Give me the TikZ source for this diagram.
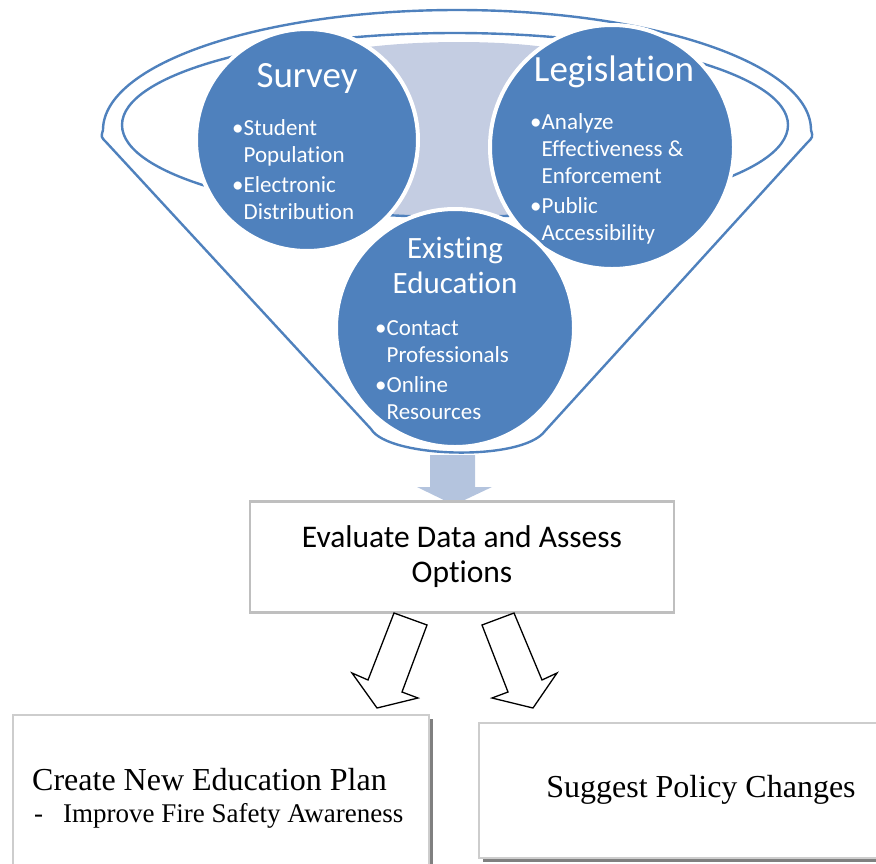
\documentclass[tikz,border=0pt]{standalone}
\usepackage{fontspec}
\setmainfont{Liberation Serif}
\newfontfamily\calfont[Ligatures=NoCommon]{Carlito}
\usetikzlibrary{shadows}
\definecolor{fblue}{RGB}{79,129,189}
\definecolor{flight}{RGB}{196,205,226}
\definecolor{farrow}{RGB}{180,196,222}
\definecolor{boxgray}{RGB}{191,191,191}
\definecolor{lightgray2}{RGB}{205,205,205}
\definecolor{shadowgray}{RGB}{128,128,128}
\tikzset{
  funnelline/.style={draw=fblue, line width=2.4pt},
  circ/.style={circle, fill=fblue, draw=white, line width=4pt, inner sep=0pt},
  ctitle/.style={text=white, font=\calfont\fontsize{37}{40}\selectfont, inner sep=0pt},
  ctitlesm/.style={text=white, font=\calfont\fontsize{31}{35}\selectfont, inner sep=0pt, align=center},
  blist/.style={text=white, font=\calfont\fontsize{23}{27}\selectfont, inner sep=0pt, anchor=north west},
  evalbox/.style={draw=boxgray, line width=2.5pt, fill=white, minimum width=424pt, minimum height=111pt, align=center, font=\calfont\fontsize{31.5}{35}\selectfont},
  outbox/.style={draw=lightgray2, line width=2pt, fill=white, anchor=north west,
    drop shadow={shadow xshift=4pt, shadow yshift=-4pt, fill=shadowgray, opacity=1}},
  blockarrow/.style={draw=black, line width=1.3pt, fill=white, line join=miter},
  outtext/.style={font=\fontsize{32}{36}\selectfont, inner sep=0pt},
}
\newcommand{\bl}{\textbullet\hspace{1pt}}
\begin{document}
\begin{tikzpicture}[x=1pt, y=-1pt]
\useasboundingbox (0,0) rectangle (876,863);
\clip (0,0) rectangle (876,863);
% light funnel interior
\fill[flight] (360,48) .. controls (420,40) and (500,40) .. (552,48) -- (552,215) -- (360,215) -- cycle;
% big arrow
\fill[farrow] (430,455) -- (475,455) -- (475,487) -- (492,487) -- (454,505) -- (417,487) -- (430,487) -- cycle;
% funnel outline
\draw[funnelline] (106,142) .. controls (101,137) .. (103,130)
   arc[start angle=180, end angle=360, x radius=354, y radius=120]
   .. controls (813,137) .. (807,143) -- (545,431)
   .. controls (522,462) and (388,458) .. (371,429) -- cycle;
% inner ellipse
\draw[funnelline] (455,125) ellipse[x radius=333, y radius=92];
% circles
\node[circ, minimum size=222pt] (survey) at (307,140) {};
\node[circ, minimum size=244pt] (legis) at (612,147) {};
\node[circ, minimum size=238pt] (exist) at (455,328) {};
% circle texts
\node[ctitle] (surveyT) at (307,78) {Survey};
\node[blist] (surveyB) at (232,116) {\begin{tabular}{@{}l@{}l@{}}\bl&Student\\&Population\\[3pt]\bl&Electronic\\&Distribution\end{tabular}};
\node[ctitle] (legisT) at (614,72) {Legislation};
\node[blist] (legisB) at (530,110) {\begin{tabular}{@{}l@{}l@{}}\bl&Analyze\\&Effectiveness \&\\&Enforcement\\[3pt]\bl&Public\\&Accessibility\end{tabular}};
\node[ctitlesm] (existT) at (455,265) {Existing\\Education};
\node[blist] (existB) at (375,316) {\begin{tabular}{@{}l@{}l@{}}\bl&Contact\\&Professionals\\[3pt]\bl&Online\\&Resources\end{tabular}};
% evaluate box
\node[evalbox] (eval) at (462,557) {Evaluate Data and Assess\\Options};
% block arrows
\draw[blockarrow] (394,613) -- (427,625) -- (402,692) -- (418,698) -- (377,708) -- (352,673) -- (368,680) -- cycle;
\draw[blockarrow] (514,613) -- (482,625) -- (508,692) -- (492,698) -- (533,708) -- (557,673) -- (542,680) -- cycle;
% output boxes
\node[outbox, minimum width=416pt, minimum height=170pt] (plan) at (12,714) {};
\node[outbox, minimum width=420pt, minimum height=135pt] (policy) at (478,722) {};
\node[outtext, anchor=west] (planT) at (32,780) {Create New Education Plan};
\node[anchor=west, inner sep=0pt, font=\fontsize{27}{30}\selectfont] (planB) at (34,816) {-\hspace{20pt}Improve Fire Safety Awareness};
\node[outtext] (policyT) at (701,790) {Suggest Policy Changes};
\end{tikzpicture}
\end{document}
